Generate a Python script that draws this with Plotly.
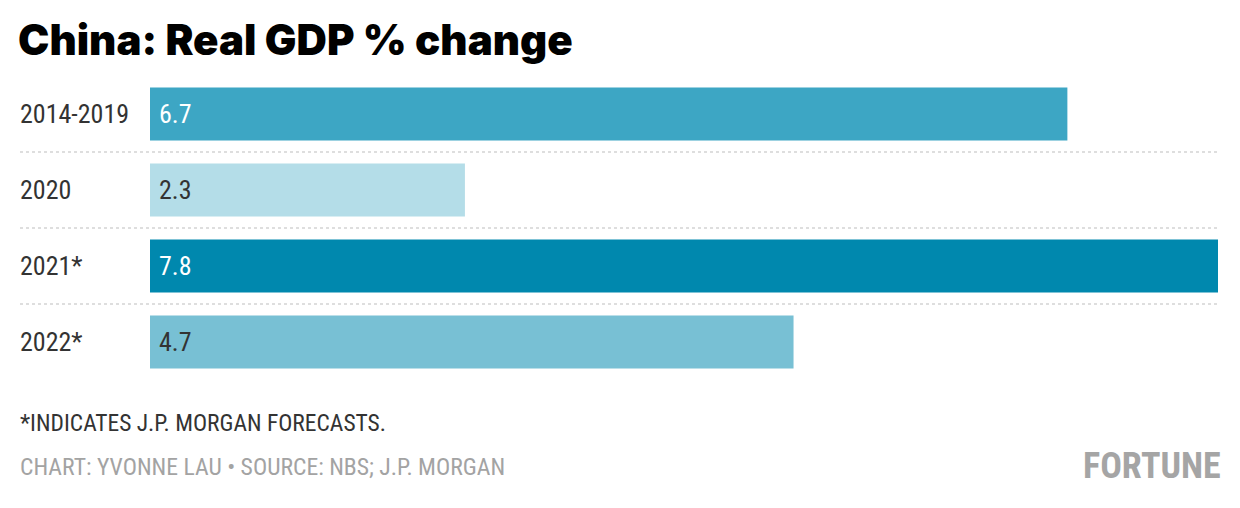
import plotly.graph_objects as go

categories = ["2014-2019", "2020", "2021*", "2022*"]
values = [6.7, 2.3, 7.8, 4.7]
bar_colors = ["#3da6c4", "#b4dde8", "#0088ae", "#78c0d4"]
label_colors = ["#ffffff", "#333333", "#ffffff", "#333333"]

W, H = 1240, 508
ML, MR, MT, MB = 150, 22, 76, 128
PW = W - ML - MR
PH = H - MT - MB

LABEL_FONT = "Roboto Condensed, Liberation Sans Narrow, DejaVu Sans Condensed, Roboto"

fig = go.Figure()
fig.add_trace(go.Bar(
    x=values, y=categories, orientation="h",
    marker=dict(color=bar_colors, line=dict(width=0)),
    width=0.7, hoverinfo="skip",
))

ann = []
xl = (18 - ML) / PW
for i, (c, v, col) in enumerate(zip(categories, values, label_colors)):
    ann.append(dict(x=xl, xref="paper", y=i, yref="y", text=c, showarrow=False,
                    xanchor="left", yanchor="middle",
                    font=dict(family=LABEL_FONT, size=26, color="#333333")))
    ann.append(dict(x=0, xref="x", y=i, yref="y", text=f"{v}", showarrow=False,
                    xanchor="left", yanchor="middle", xshift=7,
                    font=dict(family=LABEL_FONT, size=26, color=col)))

ann.append(dict(x=xl, xref="paper", y=(MT + PH - 423) / PH, yref="paper",
                text="*INDICATES J.P. MORGAN FORECASTS.", showarrow=False,
                xanchor="left", yanchor="middle",
                font=dict(family=LABEL_FONT, size=23.5, color="#333333")))
ann.append(dict(x=xl, xref="paper", y=(MT + PH - 467) / PH, yref="paper",
                text="CHART: YVONNE LAU \u2022 SOURCE: NBS; J.P. MORGAN", showarrow=False,
                xanchor="left", yanchor="middle",
                font=dict(family=LABEL_FONT, size=23.7, color="#a3a3a3")))
ann.append(dict(x=1, xref="paper", y=(MT + PH - 466) / PH, yref="paper",
                text="<b>FORTUNE</b>", showarrow=False,
                xanchor="right", yanchor="middle", xshift=5,
                font=dict(family=LABEL_FONT, size=36, color="#a5a5a5")))

shapes = []
for i in range(len(categories) - 1):
    shapes.append(dict(type="line", xref="paper", yref="y",
                       x0=(20 - ML) / PW, x1=1, y0=i + 0.5, y1=i + 0.5,
                       line=dict(color="#bdbdbd", width=1, dash="dot")))

fig.update_layout(
    width=W, height=H,
    margin=dict(l=ML, r=MR, t=MT, b=MB, pad=0),
    paper_bgcolor="white", plot_bgcolor="white",
    showlegend=False,
    title=dict(text="China: Real GDP % change", x=18 / W, xanchor="left",
               xref="container", y=1 - 26 / H, yanchor="top", yref="container",
               font=dict(family="Inter", size=42, color="#000000", weight=900)),
    xaxis=dict(range=[0, max(values)], visible=False, fixedrange=True),
    yaxis=dict(type="category", categoryorder="array", categoryarray=categories,
               range=[len(categories) - 0.5, -0.5], autorange=False,
               showticklabels=False, showgrid=False, zeroline=False, showline=False,
               ticks="", fixedrange=True),
    annotations=ann, shapes=shapes,
)

fig.write_html("out.html", config={"displayModeBar": False},
               post_script="document.body.style.margin='0';document.body.style.padding='0';")
